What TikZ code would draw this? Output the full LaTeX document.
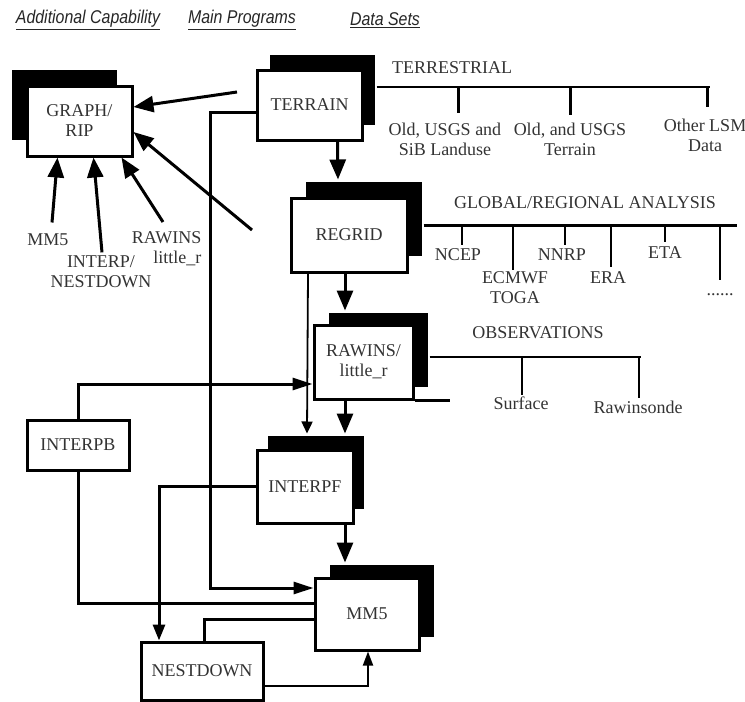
\documentclass[tikz,border=0pt]{standalone}
\usepackage{fontspec}
\setmainfont{Liberation Serif}
\setsansfont{Liberation Sans}
\newfontfamily\headfont[FakeStretch=0.86]{Liberation Sans}
\usetikzlibrary{positioning, arrows.meta, shadows}

\begin{document}
\begin{tikzpicture}[x=1pt, y=-1pt,
        every node/.style={text=black!80, font=\fontsize{18}{20}\selectfont},
        prog/.style={draw=black, line width=3pt, fill=white, align=center, inner sep=0pt},
        sbox/.style 2 args={prog, drop shadow={shadow xshift=#1, shadow yshift=#2, fill=black, opacity=1}},
        head/.style={font=\headfont\itshape\fontsize{18.5}{20}\selectfont, text=black!85},
        dlab/.style={align=center, inner sep=1pt},
        link/.style={line width=3pt},
        big/.style={link, -{Triangle[length=20pt, width=16pt]}},
        thinlink/.style={line width=1.8pt}]
    \useasboundingbox (0,0) rectangle (745,702);

    \node[head] (hadd) at (88,20) {\underline{Additional Capability}};
    \node[head] (hmain) at (242,20) {\underline{Main Programs}};
    \node[head] (hdata) at (385,20) {\underline{Data Sets}};

    \node[sbox={-15pt}{16pt}, minimum width=105pt, minimum height=70pt] (graph) at (79.5,121) {GRAPH/\\RIP};
    \node[sbox={13pt}{15pt}, minimum width=105pt, minimum height=70pt] (terrain) at (309.5,105) {TERRAIN};
    \node[sbox={15pt}{16pt}, minimum width=116pt, minimum height=74pt] (regrid) at (349,235) {REGRID};
    \node[sbox={15pt}{12pt}, minimum width=99pt, minimum height=74pt] (rawins) at (363.5,362) {RAWINS/\\little\_r};
    \node[sbox={11pt}{14pt}, minimum width=96pt, minimum height=73pt] (interpf) at (305,486.5) {INTERPF};
    \node[sbox={15pt}{13pt}, minimum width=104pt, minimum height=72pt] (mm5) at (367,614) {MM5};
    \node[prog, minimum width=102pt, minimum height=50pt] (interpb) at (78,445) {INTERPB};
    \node[prog, minimum width=122pt, minimum height=58pt] (nestdown) at (202,671) {NESTDOWN};

    \coordinate (tg) at (237,92);
    \coordinate (rg) at (252,230);
    \draw[big] (tg) -- ([yshift=14pt]graph.east);
    \draw[big] (rg) -- ([yshift=-11pt]graph.east);

    \node (lmm) at (48,240) {MM5};
    \node[align=center] (lint) at (101,272) {INTERP/\\NESTDOWN};
    \node[align=right, anchor=north east] (lraw) at (205,228) {RAWINS\\little\_r};
    \draw[big] ([shift={(4,-8)}]lmm.north) -- ([xshift=-22pt]graph.south);
    \draw[big] ([shift={(1,0)}]lint.north) -- ([xshift=14pt]graph.south);
    \draw[big] ([shift={(-42,-6)}]lraw.north east) -- ([xshift=-12pt]graph.south east);

    \draw[big] ([xshift=28pt]terrain.south) -- ([shift={(-11,-17)}]regrid.north);
    \draw[big] ([xshift=-4pt]regrid.south) -- ([shift={(-18.5,-13)}]rawins.north);
    \draw[big] ([xshift=-18.5pt]rawins.south) -- ([shift={(40,-15)}]interpf.north);
    \draw[big] ([xshift=40pt]interpf.south) -- ([shift={(-22,-14)}]mm5.north);
    \draw[thinlink, -{Triangle[length=12pt, width=11pt]}] ([xshift=-41pt]regrid.south) -- ([shift={(2,-15)}]interpf.north);

    \draw[link, -{Triangle[length=20pt, width=12pt]}] ([yshift=-7pt]terrain.west) -- ++(-45,0) |- ([yshift=26pt]mm5.west);
    \draw[link, -{Triangle[length=20pt, width=12pt]}] (interpb.north) |- ([yshift=-22pt]rawins.west);
    \draw[link] (interpb.south) |- ([yshift=11pt]mm5.west);
    \draw[link, -{Triangle[length=16pt, width=12pt]}] (interpf.west) -| ([xshift=-43pt]nestdown.north);
    \draw[link] ([yshift=-5pt]mm5.west) -| ([xshift=2pt]nestdown.north);
    \draw[thinlink, -{Triangle[length=14pt, width=10pt]}] ([yshift=-15pt]nestdown.east) -| ([xshift=1pt]mm5.south);

    % data sets
    \node (terr) at (452,68) {TERRESTRIAL};
    \draw[line width=2.5pt] ([shift={(13,-18)}]terrain.east) coordinate (tbar) -- ++(333,0);
    \foreach \tx/\len/\dx/\dy/\nm/\txt in {458/26/-13/-8/luse/{Old, USGS and\\SiB Landuse},
            570/28/0/-6/lter/{Old, and USGS\\Terrain}, 707/20/-2/-10/lsm/{Other LSM\\Data}}
        \draw[line width=3pt] (tbar -| \tx,0) -- ++(0,\len) node[dlab, anchor=north, xshift=\dx, yshift=\dy] (\nm) {\txt};

    \node (glob) at (585,203) {GLOBAL/REGIONAL ANALYSIS};
    \draw[line width=3pt] ([shift={(15,-10)}]regrid.east) coordinate (gbar) -- ++(313,0);
    \foreach \tx/\len/\dx/\dy/\nm/\txt in {462/20/-4/-2/ncep/NCEP, 513/45/2/0/ecmwf/{ECMWF\\TOGA},
            565/20/-3/-2/nnrp/NNRP, 611/42/-3/-3/era/ERA, 665/17/0/-3/eta/ETA, 720/55/0/-12/more/{......}}
        \draw[line width=2pt] (gbar -| \tx,0) -- ++(0,\len) node[dlab, anchor=north, xshift=\dx, yshift=\dy] (\nm) {\txt};

    \node (obs) at (538,333) {OBSERVATIONS};
    \draw[line width=2.5pt] ([shift={(15,-5)}]rawins.east) coordinate (obar) -- ++(211,0);
    \foreach \tx/\len/\dx/\dy/\nm/\txt in {522/38/-1/0/surf/Surface, 639/41/-1/-1/rsonde/Rawinsonde}
        \draw[line width=2.5pt] (obar -| \tx,0) -- ++(0,\len) node[dlab, anchor=north, xshift=\dx, yshift=\dy] (\nm) {\txt};
    \draw[link] (rawins.south east) -- ++(35,0);
\end{tikzpicture}
\end{document}
